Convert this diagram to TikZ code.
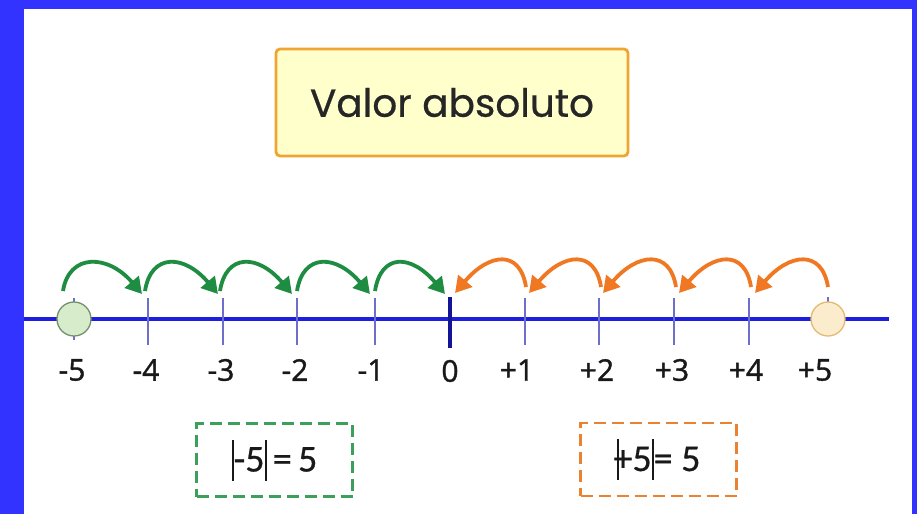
\documentclass[tikz,border=0pt]{standalone}
\usepackage{fontspec}
\setmainfont{Open Sans}
\newfontfamily\numfont[FakeBold=1.2]{Open Sans}
\newfontfamily\titlefont[FakeBold=0.6]{Poppins}
\newfontfamily\boxfont[FakeBold=0.6]{Carlito}
\usetikzlibrary{arrows.meta,calc}
\definecolor{frameblue}{RGB}{51,51,255}
\definecolor{lineblue}{RGB}{30,30,225}
\definecolor{tickblue}{RGB}{110,110,205}
\definecolor{zeroblue}{RGB}{20,20,150}
\definecolor{arrgreen}{RGB}{30,140,65}
\definecolor{arrorange}{RGB}{240,120,35}
\definecolor{titleedge}{RGB}{240,165,50}
\definecolor{titlefill}{RGB}{255,255,204}
\definecolor{dgreen}{RGB}{60,160,90}
\definecolor{dorange}{RGB}{235,130,50}
\definecolor{gcircfill}{RGB}{215,236,202}
\definecolor{gcircedge}{RGB}{115,145,110}
\definecolor{ocircfill}{RGB}{252,236,206}
\definecolor{ocircedge}{RGB}{228,186,115}
\tikzset{
  tickline/.style={draw=tickblue,line width=1.8pt},
  numlabel/.style={font=\numfont\fontsize{30}{32}\selectfont,text=black!90,inner sep=0pt},
  garrow/.style={draw=arrgreen,line width=3.8pt,-{Triangle[length=16pt,width=18pt]}},
  oarrow/.style={draw=arrorange,line width=3.8pt,-{Triangle[length=16pt,width=18pt]}},
  dashbox/.style={line width=2.6pt,dash pattern=on 12pt off 6pt,minimum width=156pt,minimum height=73pt,inner sep=0pt,font=\boxfont\fontsize{38}{40}\selectfont,text=black!90},
}
\newcommand{\absbar}{\rule[-9pt]{2pt}{41pt}}
\begin{document}
\begin{tikzpicture}[x=1pt,y=-1pt]
\useasboundingbox (0,0) rectangle (917,514);
\fill[frameblue] (0,0) rectangle (917,514);
\fill[white] (24,9) rectangle (912,514);
% title
\node[draw=titleedge,fill=titlefill,line width=2.8pt,rounded corners=4pt,minimum width=352pt,minimum height=107pt,font=\titlefont\fontsize{39}{42}\selectfont,text=black!85] (title) at (452,102.5) {Valor absoluto};
% number line
\coordinate (L) at (24,319);
\coordinate (R) at (889,319);
\draw[lineblue,line width=4pt] (L) -- (R);
% ticks
\foreach \n/\x in {m4/148,m3/223,m2/297,m1/375,p1/525,p2/599,p3/674,p4/749}{
  \coordinate (t\n) at (\x,319);
  \draw[tickline] (\x,298) -- (\x,345);
}
\coordinate (tm5) at (74,319);
\coordinate (tp5) at (828,319);
\coordinate (t0) at (450,319);
\draw[zeroblue,line width=3.6pt] (450,297) -- (450,348);
\draw[tickline] (74,298) -- (74,340);
\draw[tickline] (828,297) -- (828,305);
% circles
\node[circle,draw=gcircedge,fill=gcircfill,line width=1.3pt,minimum size=34pt,inner sep=0pt] (cm5) at (tm5) {};
\node[circle,draw=ocircedge,fill=ocircfill,line width=1.3pt,minimum size=34pt,inner sep=0pt] (cp5) at (tp5) {};
% labels
\node[numlabel] (lm5) at (72,370) {-5};
\node[numlabel] (lm4) at (146,370) {-4};
\node[numlabel] (lm3) at (221,370) {-3};
\node[numlabel] (lm2) at (295,370) {-2};
\node[numlabel] (lm1) at (371,370) {-1};
\node[numlabel] (l0) at (450,371) {0};
\node[numlabel] (lp1) at (517,370) {+1};
\node[numlabel] (lp2) at (597,370) {+2};
\node[numlabel] (lp3) at (672,370) {+3};
\node[numlabel] (lp4) at (746,370) {+4};
\node[numlabel] (lp5) at (815,370) {+5};
% green arrow anchor points
\foreach \a/\b [count=\k] in {63/142,145/218,220/292,297/370,375/445}{
  \coordinate (gs\k) at (\a,291);
  \coordinate (ge\k) at (\b,294);
}
\foreach \k in {1,...,5}{
  \draw[garrow] (gs\k) .. controls ($(gs\k)+(6,-38)$) and ($(ge\k)+(-34,-40)$) .. (ge\k);
}
% orange arrow anchor points
\foreach \a/\b [count=\k] in {828/755,751/679,676/603,601/529,526/455}{
  \coordinate (os\k) at (\a,287);
  \coordinate (oe\k) at (\b,293);
}
\foreach \k in {1,...,5}{
  \draw[oarrow] (os\k) .. controls ($(os\k)+(-6,-38)$) and ($(oe\k)+(34,-40)$) .. (oe\k);
}
% dashed boxes
\node[dashbox,draw=dgreen] (gbox) at (274.5,460) {\absbar-5\absbar\,=\,5};
\node[dashbox,draw=dorange] (obox) at (658.5,459.5) {\absbar\kern-5pt+5\absbar= 5};
\end{tikzpicture}
\end{document}
